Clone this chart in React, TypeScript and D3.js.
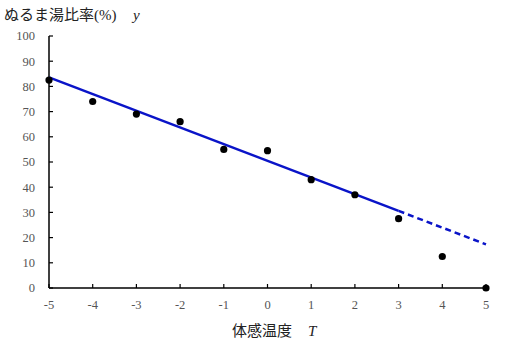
import React from "react";
import * as d3 from "d3";

const temps = [-5, -4, -3, -2, -1, 0, 1, 2, 3, 4, 5];
const ratios = [82.5, 74, 69, 66, 55, 54.5, 43, 37, 27.5, 12.5, 0];
const fitSolidT = [-5, 3];
const fitSolidY = [83.6, 30.6];
const fitDashT = [3, 5];
const fitDashY = [30.6, 17.3];
const xTicks = [-5, -4, -3, -2, -1, 0, 1, 2, 3, 4, 5];
const yTicks = [0, 10, 20, 30, 40, 50, 60, 70, 80, 90, 100];

const W = 509, H = 351;
const serif = "'Liberation Serif', 'DejaVu Serif', 'Noto Sans CJK JP', serif";

export default function App() {
  const x = d3.scaleLinear().domain([-5, 5]).range([49, 486]);
  const y = d3.scaleLinear().domain([0, 100]).range([288, 36]);
  const line = d3.line<[number, number]>().x(d => x(d[0])).y(d => y(d[1]));
  const solid = fitSolidT.map((t, i) => [t, fitSolidY[i]] as [number, number]);
  const dash = fitDashT.map((t, i) => [t, fitDashY[i]] as [number, number]);
  return (
    <svg width={W} height={H} style={{ position: "absolute", left: 0, top: 0, background: "#fff" }}>
      <text x={4} y={20} fontSize={15} fontFamily={serif} fill="#222">ぬるま湯比率(%)</text>
      <text x={133} y={20} fontSize={15} fontStyle="italic" fontFamily={serif} fill="#222">y</text>
      {/* axes */}
      <line x1={x(-5)} x2={x(5)} y1={y(0)} y2={y(0)} stroke="#000" strokeWidth={1.5} />
      <line x1={x(-5)} x2={x(-5)} y1={y(0)} y2={y(100)} stroke="#000" strokeWidth={1.5} />
      {yTicks.map(v => (
        <g key={"y" + v}>
          <line x1={x(-5)} x2={x(-5) + 4} y1={y(v)} y2={y(v)} stroke="#000" strokeWidth={1.2} />
          <text x={35} y={y(v)} dy="0.35em" textAnchor="end" fontSize={12.5} fontFamily={serif} fill="#555">{v}</text>
        </g>
      ))}
      {xTicks.map(v => (
        <g key={"x" + v}>
          <line x1={x(v)} x2={x(v)} y1={y(0)} y2={y(0) - 4} stroke="#000" strokeWidth={1.2} />
          <text x={x(v)} y={309} textAnchor="middle" fontSize={12.5} fontFamily={serif} fill="#555">{v < 0 ? "-" + Math.abs(v) : v}</text>
        </g>
      ))}
      <path d={line(solid) || ""} fill="none" stroke="#0a14c8" strokeWidth={2.5} />
      <path d={line(dash) || ""} fill="none" stroke="#0a14c8" strokeWidth={2.5} strokeDasharray="6,4" />
      {temps.map((t, i) => (
        <circle key={"p" + t} cx={x(t)} cy={y(ratios[i])} r={3.6} fill="#000" />
      ))}
      <text x={232} y={336} fontSize={15} fontFamily={serif} fill="#222">体感温度</text>
      <text x={308} y={336} fontSize={15} fontStyle="italic" fontFamily={serif} fill="#222">T</text>
    </svg>
  );
}
